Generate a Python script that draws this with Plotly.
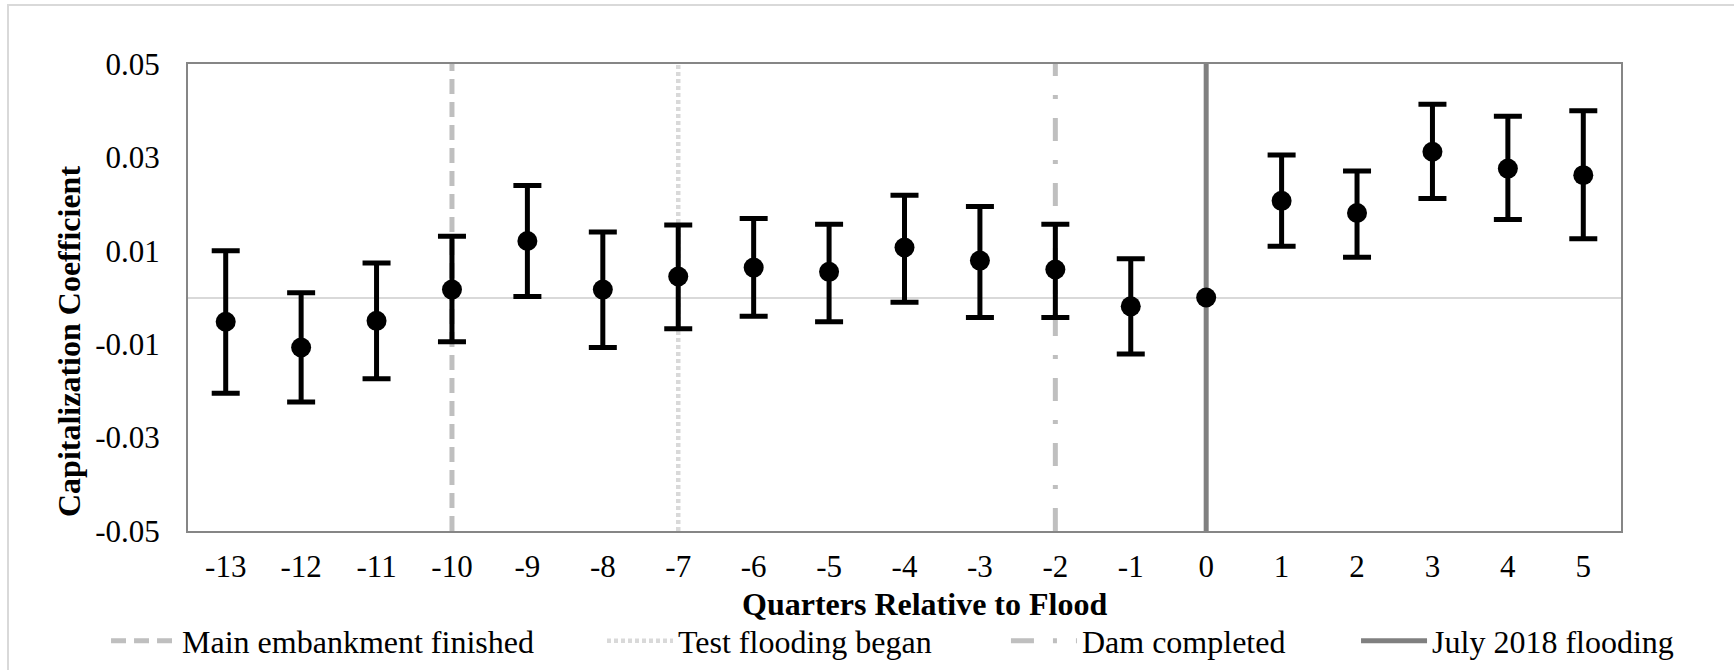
import plotly.graph_objects as go

# ---------------- data ----------------
quarters = list(range(-13, 6))
coef = [-0.0052, -0.0107, -0.0050, 0.0017, 0.0121, 0.0017, 0.0045, 0.0064, 0.0055,
        0.0107, 0.0079, 0.0060, -0.0019, 0.0000, 0.0207, 0.0181, 0.0312, 0.0276, 0.0262]
upper = [0.0100, 0.0010, 0.0074, 0.0131, 0.0240, 0.0140, 0.0155, 0.0169, 0.0157,
         0.0219, 0.0195, 0.0157, 0.0083, None, 0.0305, 0.0271, 0.0414, 0.0388, 0.0400]
lower = [-0.0205, -0.0224, -0.0174, -0.0095, 0.0002, -0.0107, -0.0067, -0.0040, -0.0052,
         -0.0010, -0.0043, -0.0043, -0.0121, None, 0.0110, 0.0086, 0.0212, 0.0167, 0.0126]

event_names = ["Main embankment finished", "Test flooding began", "Dam completed", "July 2018 flooding"]
event_quarters = [-10, -7, -2, 0]

ytick_vals = [-0.05, -0.03, -0.01, 0.01, 0.03, 0.05]
ytick_text = ["-0.05", "-0.03", "-0.01", "0.01", "0.03", "0.05"]
xtick_text = [str(q) for q in quarters]

y_min, y_max = -0.05, 0.05

# ---------------- styles ----------------
event_colors = ["#BFBFBF", "#D9D9D9", "#BFBFBF", "#808080"]
event_dashes = ["15px,8px", "4px,3px", "23px,19px,4px,19px", "solid"]
event_widths = [5, 4.5, 5, 5]
legend_x = [-0.0572, 0.2889, 0.5708, 0.8151]

FONT = "Liberation Serif"
W, H = 1734, 670
ML, MR, MT, MB = 188, 113, 64, 139
PW = W - ML - MR
PH = H - MT - MB

def px_x(p):
    return (p - ML) / PW

def px_y(p):
    return (H - MB - p) / PH

# points with confidence intervals vs. the reference (omitted) quarter
ci_idx = [i for i, u in enumerate(upper) if u is not None]
ref_idx = [i for i, u in enumerate(upper) if u is None]

fig = go.Figure()

legend_keys = ["legend", "legend2", "legend3", "legend4"]
for i, (name, q) in enumerate(zip(event_names, event_quarters)):
    fig.add_trace(go.Scatter(
        x=[q, q], y=[y_min, y_max], mode="lines", name=name,
        line=dict(color=event_colors[i], width=event_widths[i], dash=event_dashes[i]),
        legend=legend_keys[i], hoverinfo="skip",
    ))

fig.add_trace(go.Scatter(
    x=[quarters[i] for i in ci_idx], y=[coef[i] for i in ci_idx],
    mode="markers", showlegend=False,
    marker=dict(color="black", size=20),
    error_y=dict(type="data", symmetric=False,
                 array=[upper[i] - coef[i] for i in ci_idx],
                 arrayminus=[coef[i] - lower[i] for i in ci_idx],
                 color="black", thickness=5, width=14),
))
fig.add_trace(go.Scatter(
    x=[quarters[i] for i in ref_idx], y=[coef[i] for i in ref_idx],
    mode="markers", showlegend=False,
    marker=dict(color="black", size=20),
))

legends = {}
for i, key in enumerate(legend_keys):
    legends[key] = dict(
        x=legend_x[i], y=px_y(641), xanchor="left", yanchor="middle",
        orientation="h", itemwidth=66, bgcolor="rgba(0,0,0,0)",
        font=dict(family=FONT, size=32, color="black"),
        itemclick=False, itemdoubleclick=False,
    )

fig.update_layout(
    width=W, height=H, autosize=False,
    margin=dict(l=ML, r=MR, t=MT, b=MB, pad=0, autoexpand=False),
    paper_bgcolor="white", plot_bgcolor="white",
    font=dict(family=FONT, size=31, color="black"),
    xaxis=dict(range=[-13.5, 5.5], tickmode="array", tickvals=quarters, ticktext=xtick_text,
               showgrid=False, zeroline=False, showline=True, linecolor="#868686", linewidth=2,
               mirror=True, ticks="", ticklabelstandoff=7,
               tickfont=dict(family=FONT, size=31, color="black")),
    yaxis=dict(range=[y_min, y_max], tickmode="array", tickvals=ytick_vals, ticktext=ytick_text,
               showgrid=False, zeroline=True, zerolinecolor="#D9D9D9", zerolinewidth=2,
               showline=True, linecolor="#868686", linewidth=2, mirror=True, ticks="",
               ticklabelstandoff=20,
               tickfont=dict(family=FONT, size=31, color="black")),
    annotations=[
        dict(text="<b>Quarters Relative to Flood</b>", xref="paper", yref="paper",
             x=px_x(924), y=px_y(604), xanchor="center", yanchor="middle",
             showarrow=False, font=dict(family=FONT, size=32, color="black")),
        dict(text="<b>Capitalization Coefficient</b>", xref="paper", yref="paper",
             x=px_x(69), y=px_y(341), xanchor="center", yanchor="middle",
             textangle=-90, showarrow=False, font=dict(family=FONT, size=32, color="black")),
    ],
    shapes=[
        dict(type="rect", xref="paper", yref="paper", x0=px_x(8), x1=px_x(1760),
             y0=px_y(700), y1=px_y(5), line=dict(color="#D9D9D9", width=2), layer="below"),
    ],
    **legends,
)

fig.write_html("out.html")
